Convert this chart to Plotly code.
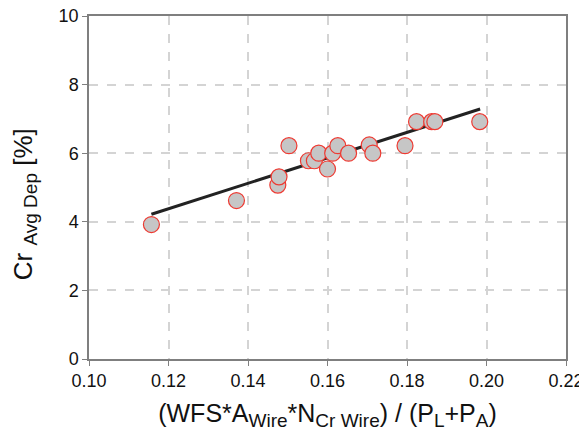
import numpy as np
import plotly.graph_objects as go

x_vals = [0.1157, 0.1371, 0.1475, 0.1478, 0.1503, 0.1552, 0.1567, 0.1578, 0.1600,
          0.1613, 0.1626, 0.1653, 0.1705, 0.1714, 0.1795, 0.1824, 0.1862, 0.1870, 0.1983]
y_vals = [3.92, 4.62, 5.07, 5.31, 6.22, 5.78, 5.78, 6.00, 5.54,
          6.00, 6.22, 6.00, 6.24, 6.00, 6.22, 6.92, 6.92, 6.92, 6.92]

trend_x = [0.1157, 0.1984]
trend_y = [4.22, 7.29]

x_ticks = [0.10, 0.12, 0.14, 0.16, 0.18, 0.20, 0.22]
x_tick_labels = ["0.10", "0.12", "0.14", "0.16", "0.18", "0.20", "0.22"]
y_ticks = [0, 2, 4, 6, 8, 10]


def sub(t, px):
    return '<sub><span style="font-size:%dpx">%s</span></sub>' % (px, t)


x_title = "(WFS*A" + sub("Wire", 19) + "*N" + sub("Cr Wire", 19) + ") / (P" + sub("L", 19) + "+P" + sub("A", 19) + ")"
y_title = "Cr " + sub("Avg Dep", 19) + " [%]"

fig = go.Figure()
fig.add_trace(go.Scatter(x=trend_x, y=trend_y, mode="lines",
                         line=dict(color="#222222", width=3), showlegend=False))
fig.add_trace(go.Scatter(x=x_vals, y=y_vals, mode="markers",
                         marker=dict(size=16, color="#c6c6c6",
                                     line=dict(color="#ee3a32", width=1.2)),
                         showlegend=False))

font = "Liberation Sans, Arial, sans-serif"
fig.update_layout(
    width=579, height=431,
    margin=dict(l=81, r=21, t=8, b=80),
    paper_bgcolor="white", plot_bgcolor="white",
    font=dict(family=font, color="#111111"),
    xaxis=dict(range=[0.10, 0.22], tickvals=x_ticks, ticktext=x_tick_labels,
               automargin=False, ticklabeloverflow="allow",
               showline=True, linecolor="#7f7f7f", linewidth=1.5, mirror=True,
               ticks="outside", ticklen=5, tickcolor="#7f7f7f",
               showgrid=True, gridcolor="#d4d4d4", griddash="dash", gridwidth=1.5,
               zeroline=False, tickfont=dict(size=18),
               title=dict(text=x_title, font=dict(size=25), standoff=14)),
    yaxis=dict(range=[0, 10], tickvals=y_ticks,
               automargin=False, ticklabeloverflow="allow",
               showline=True, linecolor="#7f7f7f", linewidth=1.5, mirror=True,
               ticks="outside", ticklen=5, tickcolor="#7f7f7f",
               showgrid=True, gridcolor="#d4d4d4", griddash="dash", gridwidth=1.5,
               zeroline=False, tickfont=dict(size=18)),
    annotations=[dict(text=y_title, textangle=-90, showarrow=False,
                      xref="paper", yref="paper", x=-0.135, y=0.45,
                      xanchor="center", yanchor="middle",
                      font=dict(size=26, family=font, color="#111111"))],
)
fig.write_html("out.html")
